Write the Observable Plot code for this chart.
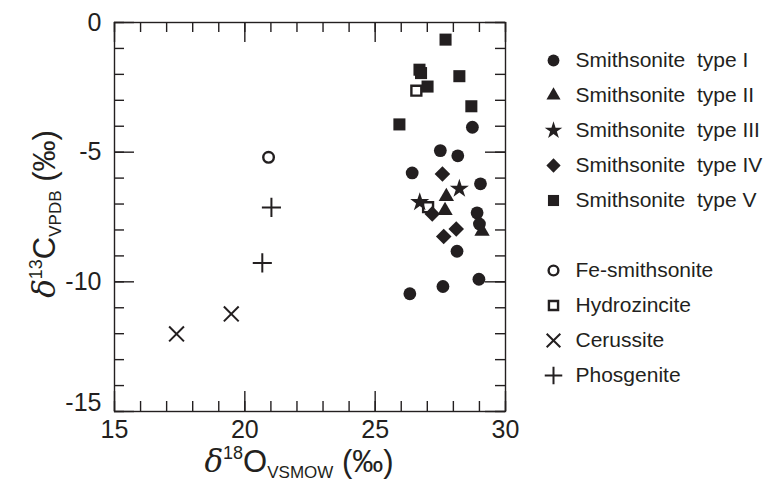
<!DOCTYPE html>
<html><head><meta charset="utf-8">
<script src="https://cdn.jsdelivr.net/npm/d3@7"></script>
<script src="https://cdn.jsdelivr.net/npm/@observablehq/plot@0.6"></script>
<style>
body{margin:0;background:#fff;}
#wrap{position:relative;width:773px;height:485px;overflow:hidden;}
#wrap svg{position:absolute;top:0;}
</style></head><body><div id="wrap"></div>
<script>
// ---- data (δ18O VSMOW, δ13C VPDB) ----
const typeI_O = [28.73, 27.50, 28.17, 26.42, 29.04, 28.91, 29.00, 28.14, 28.98, 27.60, 26.33];
const typeI_C = [-4.04, -4.94, -5.14, -5.80, -6.22, -7.34, -7.77, -8.82, -9.90, -10.18, -10.46];
const typeII_O = [27.73, 27.68, 29.10];
const typeII_C = [-6.71, -7.25, -8.05];
const typeIII_O = [28.23, 26.71];
const typeIII_C = [-6.41, -6.93];
const typeIV_O = [27.58, 27.19, 28.11, 27.63];
const typeIV_C = [-5.84, -7.38, -7.96, -8.25];
const typeV_O = [27.70, 26.70, 26.76, 28.23, 27.01, 28.69, 25.93];
const typeV_C = [-0.66, -1.82, -1.95, -2.07, -2.47, -3.23, -3.93];
const feSmith_O = [20.91];
const feSmith_C = [-5.20];
const hydro_O = [26.58, 27.03];
const hydro_C = [-2.63, -7.12];
const ceru_O = [17.38, 19.48];
const ceru_C = [-12.01, -11.24];
const phos_O = [21.02, 20.67];
const phos_C = [-7.13, -9.27];

const xTickLabels = [15, 20, 25, 30];
const yTickLabels = [0, -5, -10, -15];
const xMinor = d3.range(15, 31, 1);
const yMinor = d3.range(-15, 1, 1);

const legendLabels = ["Smithsonite  type I", "Smithsonite  type II", "Smithsonite  type III",
  "Smithsonite  type IV", "Smithsonite  type V", "", "Fe-smithsonite", "Hydrozincite", "Cerussite", "Phosgenite"];

// ---- styling ----
const ink = "#231f20";
const font = "'Liberation Sans', Arial, sans-serif";
const W = 773, H = 485, mL = 114, mR = 268, mT = 22, mB = 74;
const pW = W - mL - mR, pH = H - mT - mB;
const rows = (xs, ys) => xs.map((x, i) => ({x, y: ys[i]}));

const styles = [
  {label: legendLabels[0], data: rows(typeI_O, typeI_C), symbol: "circle", r: 6.4, fill: ink, stroke: "none", sw: 0},
  {label: legendLabels[1], data: rows(typeII_O, typeII_C), symbol: "triangle", r: 5.7, fill: ink, stroke: "none", sw: 0},
  {label: legendLabels[2], data: rows(typeIII_O, typeIII_C), symbol: "star", r: 6.0, fill: ink, stroke: "none", sw: 0},
  {label: legendLabels[3], data: rows(typeIV_O, typeIV_C), symbol: "diamond2", r: 7.0, fill: ink, stroke: "none", sw: 0},
  {label: legendLabels[4], data: rows(typeV_O, typeV_C), symbol: "square", r: 6.8, fill: ink, stroke: "none", sw: 0},
  {label: legendLabels[6], data: rows(feSmith_O, feSmith_C), symbol: "circle", r: 5.3, fill: "white", stroke: ink, sw: 2.4},
  {label: legendLabels[7], data: rows(hydro_O, hydro_C), symbol: "square", r: 5.6, fill: "white", stroke: ink, sw: 2.4},
  {label: legendLabels[8], data: rows(ceru_O, ceru_C), symbol: "times", r: 6.8, fill: "none", stroke: ink, sw: 2},
  {label: legendLabels[9], data: rows(phos_O, phos_C), symbol: "plus", r: 6.2, fill: "none", stroke: ink, sw: 2}
];
const drawOrder = [7, 8, 5, 6, 0, 1, 3, 2, 4];

const tickStyle = {stroke: ink, strokeWidth: 1.4};
const minorLen = 10, majorLen = 20;

const chart = Plot.plot({
  width: W, height: H,
  marginLeft: mL, marginRight: mR, marginTop: mT, marginBottom: mB,
  style: {fontFamily: font, fontSize: "25px", color: ink, background: "white"},
  x: {domain: [15, 30]},
  y: {domain: [-15, 0]},
  marks: [
    Plot.frame({stroke: ink, strokeWidth: 1.4}),
    Plot.tickX(xMinor, {x: d => d, insetTop: pH - minorLen, ...tickStyle}),
    Plot.tickX(xMinor, {x: d => d, insetBottom: pH - minorLen, ...tickStyle}),
    Plot.tickX(xTickLabels, {x: d => d, insetTop: pH - majorLen, ...tickStyle}),
    Plot.tickX(xTickLabels, {x: d => d, insetBottom: pH - majorLen, ...tickStyle}),
    Plot.tickY(yMinor, {y: d => d, insetRight: pW - minorLen, ...tickStyle}),
    Plot.tickY(yMinor, {y: d => d, insetLeft: pW - minorLen, ...tickStyle}),
    Plot.tickY(yTickLabels, {y: d => d, insetRight: pW - majorLen, ...tickStyle}),
    Plot.tickY(yTickLabels, {y: d => d, insetLeft: pW - majorLen, ...tickStyle}),
    Plot.axisX({ticks: xTickLabels, tickSize: 0, tickPadding: 9, tickFormat: d => String(d), label: null, fontSize: 25}),
    Plot.axisY({ticks: yTickLabels.slice(0, 3), tickSize: 0, tickPadding: 13, tickFormat: d => String(d), label: null, fontSize: 25}),
    Plot.axisY({ticks: yTickLabels.slice(3), tickSize: 0, tickPadding: 13, dy: -9, tickFormat: d => String(d), label: null, fontSize: 25}),
    ...drawOrder.map(i => {
      const s = styles[i];
      return Plot.dot(s.data, {x: "x", y: "y", symbol: s.symbol, r: s.r, fill: s.fill, stroke: s.stroke, strokeWidth: s.sw});
    })
  ]
});

// axis titles with super/subscripts
const svg = d3.select(chart);
function title(sel, sup, main, sub) {
  sel.attr("fill", ink).attr("text-anchor", "middle").style("font-size", "31px").style("font-family", font);
  sel.append("tspan").style("font-family", "'DejaVu Serif', serif").style("font-style", "italic").text("δ");
  sel.append("tspan").attr("dy", -13).style("font-size", "18px").text(sup);
  sel.append("tspan").attr("dy", 13).text(main);
  sel.append("tspan").attr("dy", 6).style("font-size", "17px").text(sub);
  sel.append("tspan").attr("dy", -6).text(" (‰)");
}
title(svg.append("text").attr("transform", "translate(299,472)"), "18", "O", "VSMOW");
title(svg.append("text").attr("transform", "translate(55,214) rotate(-90)"), "13", "C", "VPDB");

document.getElementById("wrap").appendChild(chart);

// ---- legend ----
const legendItems = legendLabels.map((label) => ({label, st: styles.find(s => s.label === label)})).filter(d => d.st);
const legend = Plot.plot({
  width: 253, height: 485, margin: 0,
  style: {fontFamily: font, fontSize: "21px", color: ink, background: "transparent", whiteSpace: "pre"},
  x: {domain: [0, 1], range: [33, 55], axis: null},
  y: {type: "point", domain: legendLabels, range: [57, 378], padding: 0, axis: null},
  marks: [
    ...legendItems.map(d => Plot.dot([d], {x: () => 0, y: "label", symbol: d.st.symbol,
      r: d.st.r * 0.92, fill: d.st.fill, stroke: d.st.stroke, strokeWidth: d.st.sw})),
    Plot.text(legendItems, {x: () => 1, y: "label", text: "label", textAnchor: "start", fill: ink, fontSize: 21})
  ]
});
legend.style.left = "520px";
legend.querySelectorAll("text").forEach(t => { t.style.whiteSpace = "pre"; t.setAttribute("xml:space", "preserve"); });
document.getElementById("wrap").appendChild(legend);
</script>
</body></html>
